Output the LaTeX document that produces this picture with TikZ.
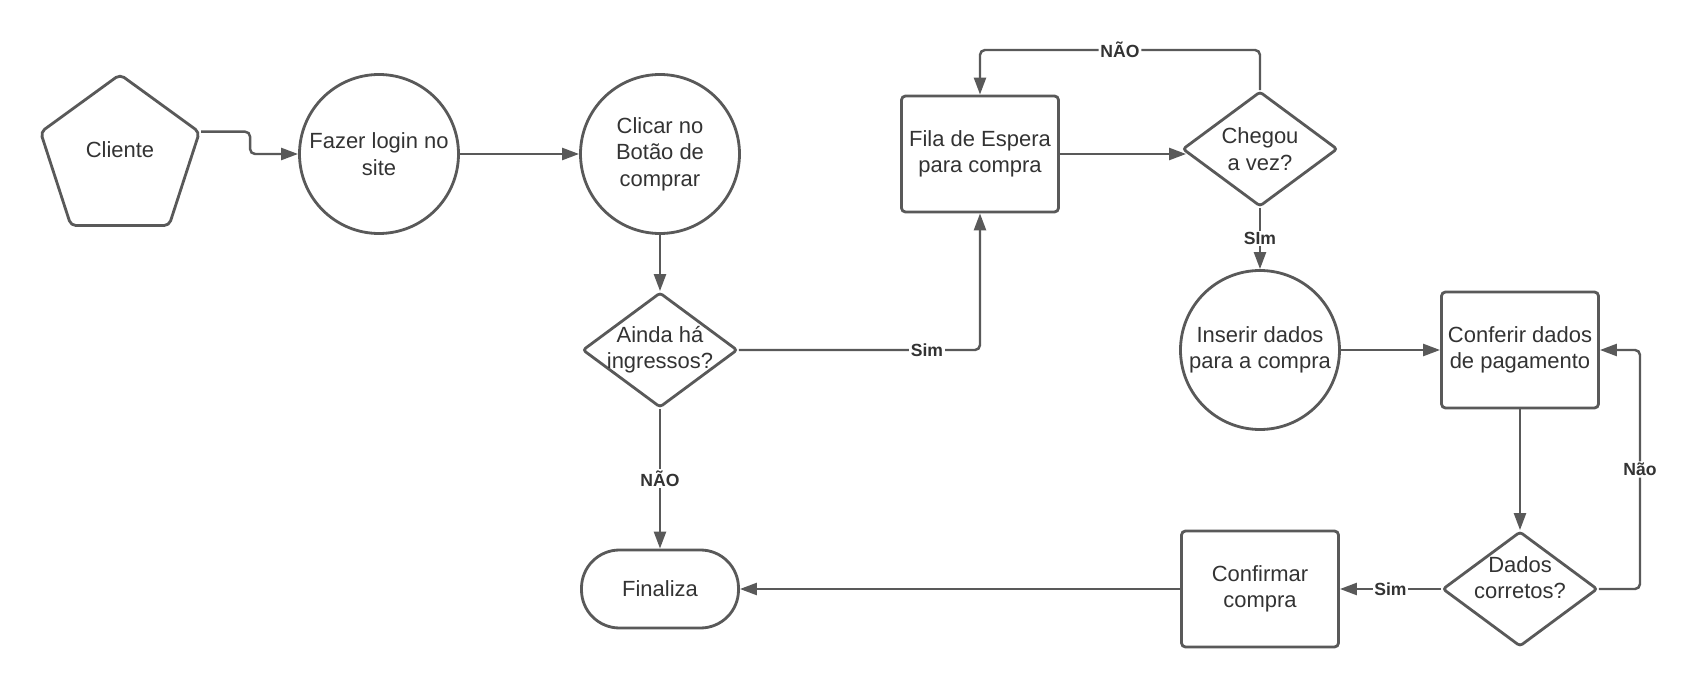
\documentclass[tikz,border=0pt]{standalone}
\usepackage{fontspec}
\setmainfont{Liberation Sans}
\usetikzlibrary{arrows.meta,positioning,shapes.geometric}
\definecolor{linegray}{HTML}{595959}
\definecolor{textgray}{HTML}{333333}

\begin{document}
\begin{tikzpicture}
[node distance = 1cm, on grid, font=\fontsize{12.5}{15}\selectfont, text=textgray,
>={Triangle[length=0.34cm,width=0.24cm]},
% STYLES
% The actor style is used for the client at the start
actor/.style={regular polygon, regular polygon sides=5, draw=linegray, line width=1.6pt, minimum size=3.34cm, inner sep=0pt, rounded corners=0.1cm},
% The task style is used for the round steps
task/.style={circle, draw=linegray, line width=1.6pt, minimum size=3.18cm, inner sep=0pt, align=center},
% The stage style is used for the boxed steps
stage/.style={rectangle, draw=linegray, line width=1.6pt, rounded corners=0.08cm, minimum width=3.14cm, minimum height=2.32cm, align=center},
% The choice style is used for the questions
choice/.style={diamond, draw=linegray, line width=1.6pt, rounded corners=0.06cm, minimum width=3.1cm, minimum height=2.3cm, inner sep=-0.4cm, align=center},
% The finish style is used for the end
finish/.style={rectangle, draw=linegray, line width=1.6pt, rounded corners=0.76cm, minimum width=3.14cm, minimum height=1.56cm},
% The answer style is used to write on the links
answer/.style={fill=white, inner sep=1pt, text=textgray, font=\bfseries\fontsize{10}{12}\selectfont},
flow/.style={->, color=linegray, line width=1.4pt}]

\useasboundingbox (-7.58,-10.72) rectangle (26.38,3.08);

% Draw steps
\node [task] (fazer) {Fazer login no\\site};
\node [actor, left=5.18cm of fazer, yshift=-0.08cm] (cliente) {\raisebox{0.35cm}{Cliente}};
\node [task, right=5.62cm of fazer] (clicar) {Clicar no\\Botão de\\comprar};
\node [choice, below=3.92cm of clicar] (ainda) {Ainda há\\ingressos?};
\node [finish, below=4.78cm of ainda] (finaliza) {Finaliza};
\node [stage, right=6.4cm of clicar] (fila) {Fila de Espera\\para compra};
\node [choice, right=5.6cm of fila, yshift=0.1cm] (chegou) {Chegou\\a vez?};
\node [task, below=4.02cm of chegou] (inserir) {Inserir dados\\para a compra};
\node [stage, right=5.2cm of inserir] (conferir) {Conferir dados\\de pagamento};
\node [choice, below=4.78cm of conferir, text depth=0.45cm] (dados) {Dados\\corretos?};
\node [stage, left=5.2cm of dados] (confirmar) {Confirmar\\compra};

% Draw the links between steps
\path[flow]
(fazer) edge (clicar)
(clicar) edge (ainda)
(ainda) edge node[answer]{NÃO} (finaliza)
(fila.east) edge ([xshift=0.1cm]chegou.west |- fila.east)
(chegou) edge node[answer]{SIm} (inserir)
(inserir) edge (conferir)
(conferir) edge (dados)
(dados) edge node[answer]{Sim} (confirmar)
(confirmar) edge (finaliza);

% Links that turn
\draw[flow, rounded corners=0.1cm] (cliente.corner 5) -- ++(0.98,0) |- (fazer);
\draw[flow, rounded corners=0.1cm] (ainda) -| node[answer, pos=0.39]{Sim} (fila);
\draw[flow, rounded corners=0.1cm] (chegou) -- ++(0,1.98) -| node[answer, pos=0.25]{NÃO} (fila);
\draw[flow, rounded corners=0.1cm] (dados) -- ++(2.4,0) |- node[answer, pos=0.25]{Não} (conferir);

\end{tikzpicture}
\end{document}
